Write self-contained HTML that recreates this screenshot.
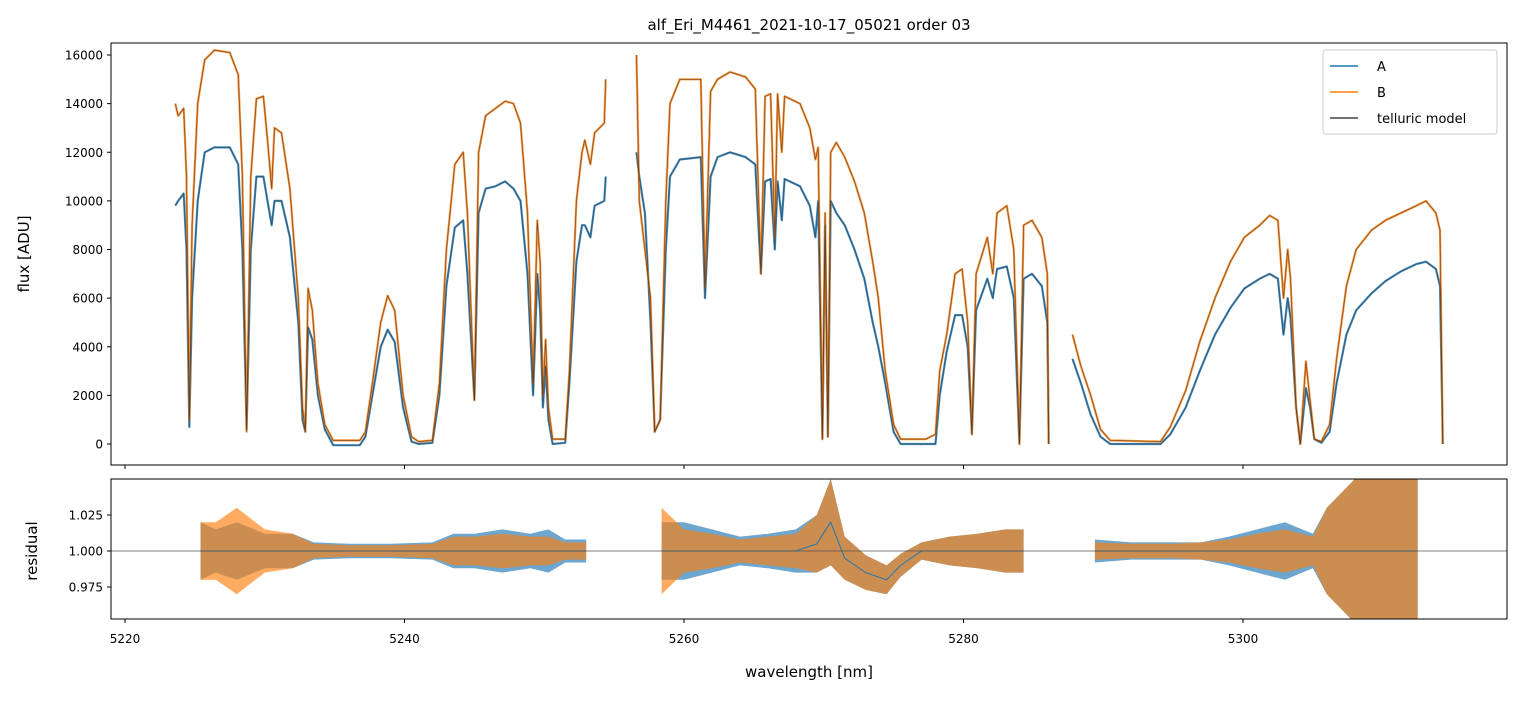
<!DOCTYPE html>
<html><head><meta charset="utf-8"><style>
body{margin:0;background:#fff;font-family:"Liberation Sans","DejaVu Sans",sans-serif}
svg text{font-family:"DejaVu Sans","Liberation Sans",sans-serif;fill:#000}
</style></head><body>
<svg id="chart" width="1520" height="696" viewBox="0 0 1520 696" xmlns="http://www.w3.org/2000/svg">
<defs>
<clipPath id="clipTop"><rect x="111" y="43" width="1396" height="422"/></clipPath>
<clipPath id="clipBot"><rect x="111" y="479" width="1396" height="140"/></clipPath>
</defs>
<text x="809" y="30" text-anchor="middle" font-size="15">alf_Eri_M4461_2021-10-17_05021  order 03</text>
<g id="topPanel"></g>
<g id="botPanel"></g>
<rect x="111" y="43" width="1396" height="422" fill="none" stroke="#000" stroke-width="1"/>
<rect x="111" y="479" width="1396" height="140" fill="none" stroke="#000" stroke-width="1"/>
<text transform="translate(29,254) rotate(-90)" text-anchor="middle" font-size="15">flux [ADU]</text>
<text transform="translate(37,551) rotate(-90)" text-anchor="middle" font-size="15">residual</text>
<text x="809" y="677" text-anchor="middle" font-size="15">wavelength [nm]</text>
<g>
<rect x="1323" y="50" width="174" height="84" fill="#fff" fill-opacity="0.8" stroke="#ccc" rx="3"/>
<line x1="1330" y1="66" x2="1358" y2="66" stroke="#1f77b4" stroke-width="1.5"/>
<text x="1377" y="71" font-size="13">A</text>
<line x1="1330" y1="92" x2="1358" y2="92" stroke="#ff7f0e" stroke-width="1.5"/>
<text x="1377" y="97" font-size="13">B</text>
<line x1="1330" y1="118" x2="1358" y2="118" stroke="#444" stroke-width="1.5"/>
<text x="1377" y="123" font-size="13">telluric model</text>
</g>
</svg>
<script>
const wl=[5223.6,5223.8,5224.2,5224.4,5224.6,5224.8,5225.2,5225.7,5226.4,5227.5,5228.1,5228.4,5228.7,5229.0,5229.4,5229.9,5230.2,5230.5,5230.7,5231.2,5231.8,5232.4,5232.7,5232.9,5233.1,5233.4,5233.8,5234.3,5234.9,5236.8,5237.2,5237.7,5238.3,5238.8,5239.3,5239.9,5240.5,5241.0,5242.0,5242.5,5243.0,5243.6,5244.2,5244.5,5245.0,5245.3,5245.8,5246.5,5247.2,5247.8,5248.3,5248.8,5249.2,5249.5,5249.7,5249.9,5250.1,5250.3,5250.6,5251.5,5251.8,5252.3,5252.7,5252.9,5253.3,5253.6,5254.3,5254.4,null,
5256.6,5256.8,5257.2,5257.6,5257.9,5258.3,5258.7,5259.0,5259.7,5261.2,5261.5,5261.9,5262.4,5263.3,5264.4,5265.1,5265.5,5265.8,5266.2,5266.5,5266.7,5267.0,5267.2,5268.3,5269.0,5269.4,5269.6,5269.9,5270.1,5270.3,5270.5,5270.9,5271.5,5272.2,5272.9,5273.5,5273.9,5274.4,5275.0,5275.5,5277.3,5278.0,5278.3,5278.8,5279.4,5279.9,5280.3,5280.6,5280.9,5281.7,5282.1,5282.4,5283.1,5283.6,5284.0,5284.3,5284.9,5285.6,5286.0,5286.1,null,
5287.8,5288.4,5289.1,5289.8,5290.5,5294.1,5294.8,5295.9,5296.9,5298.0,5299.1,5300.1,5301.2,5301.9,5302.5,5302.9,5303.2,5303.4,5303.8,5304.1,5304.5,5304.8,5305.1,5305.6,5306.2,5306.7,5307.4,5308.1,5309.2,5310.2,5311.3,5312.4,5313.1,5313.8,5314.1,5314.3];
const fluxB=[14000,13500,13800,11000,1000,9000,14000,15800,16200,16100,15200,11000,500,11000,14200,14300,12500,10500,13000,12800,10500,6000,1500,500,6400,5500,2500,800,150,150,500,2500,5000,6100,5500,2000,300,100,150,2500,8000,11500,12000,9500,1800,12000,13500,13800,14100,14000,13200,9500,2500,9200,7500,2000,4300,1500,200,200,3000,10000,12000,12500,11500,12800,13200,15000,null,
16000,10000,8000,6000,500,1000,10000,14000,15000,15000,6500,14500,15000,15300,15100,14600,7000,14300,14400,8500,14400,12000,14300,14000,13000,11700,12200,200,9500,300,12000,12400,11800,10800,9500,7500,6000,3000,800,200,200,400,3000,4500,7000,7200,5000,400,7000,8500,7000,9500,9800,8000,0,9000,9200,8500,7000,0,null,
4500,3200,2000,600,150,100,700,2200,4200,6000,7500,8500,9000,9400,9200,6000,8000,6800,1500,0,3400,1800,200,100,800,3500,6500,8000,8800,9200,9500,9800,10000,9500,8800,0];
const fluxA=[9800,10000,10300,8000,700,6000,10000,12000,12200,12200,11500,8000,600,8000,11000,11000,10000,9000,10000,10000,8500,5000,1000,500,4800,4300,2000,600,-50,-50,300,2000,4000,4700,4200,1500,100,0,50,2000,6500,8900,9200,7000,1800,9500,10500,10600,10800,10500,10000,7000,2000,7000,5500,1500,3200,1000,0,50,2500,7500,9000,9000,8500,9800,10000,11000,null,
12000,11000,9500,5000,500,1000,8000,11000,11700,11800,6000,11000,11800,12000,11800,11500,7000,10800,10900,8000,10800,9200,10900,10600,9800,8500,10000,200,9000,300,10000,9500,9000,8000,6800,5000,4000,2500,500,0,0,0,2000,3800,5300,5300,4000,400,5500,6800,6000,7200,7300,6000,0,6800,7000,6500,5000,0,null,
3500,2500,1200,300,0,0,400,1500,3000,4500,5600,6400,6800,7000,6800,4500,6000,5200,1500,0,2300,1500,200,50,500,2500,4500,5500,6200,6700,7100,7400,7500,7200,6500,0];
const resWl=[5225.4,5226.5,5228,5230,5232,5233.5,5236,5239,5242,5243.5,5245,5247,5249,5250.3,5251.5,5253.0,null,
5258.4,5260,5262,5264,5266,5268,5269.5,5270.5,5271.5,5273,5274.5,5275.5,5277,5279,5281,5283,5284.3,null,
5289.4,5292,5295,5297,5299,5301,5303,5305,5306,5308,5310,5312.5];
const resCenter=[1,1,1,1,1,1,1,1,1,1,1,1,1,1,1,1,null,
1,1,1,1,1,1,1.005,1.02,0.995,0.985,0.98,0.99,1,1,1,1,1,null,
1,1,1,1,1,1,1,1,1,1,1,1];
const resAmpA=[0.02,0.015,0.02,0.012,0.012,0.006,0.005,0.005,0.006,0.012,0.012,0.015,0.012,0.015,0.008,0.008,null,
0.02,0.02,0.015,0.01,0.012,0.015,0.02,0.03,0.015,0.012,0.01,0.008,0.006,0.01,0.012,0.015,0.015,null,
0.008,0.006,0.006,0.006,0.01,0.015,0.02,0.012,0.03,0.05,0.05,0.05];
const resAmpB=[0.02,0.02,0.03,0.015,0.012,0.005,0.004,0.004,0.005,0.01,0.01,0.012,0.01,0.01,0.006,0.006,null,
0.03,0.015,0.012,0.008,0.01,0.012,0.02,0.03,0.015,0.012,0.01,0.008,0.006,0.01,0.012,0.015,0.015,null,
0.006,0.005,0.005,0.006,0.008,0.012,0.015,0.01,0.03,0.05,0.05,0.05];
const xTicks=[5220,5240,5260,5280,5300];
const yTicks=[0,2000,4000,6000,8000,10000,12000,14000,16000];
const rTicks=[0.975,1.000,1.025];

const NS="http://www.w3.org/2000/svg";
const X=w=>125+(w-5220)*13.975;
const Y=v=>444-v*0.024312;
const R=v=>551-(v-1)*1440;
const topG=document.getElementById('topPanel'), botG=document.getElementById('botPanel');
function mk(tag,attrs,parent){const e=document.createElementNS(NS,tag);for(const k in attrs)e.setAttribute(k,attrs[k]);parent.appendChild(e);return e;}
function pathFrom(xs,ys,fx,fy){let d='',pen=false;for(let i=0;i<xs.length;i++){if(xs[i]===null||ys[i]===null){pen=false;continue;}d+=(pen?'L':'M')+fx(xs[i]).toFixed(1)+' '+fy(ys[i]).toFixed(1);pen=true;}return d;}
const gT=mk('g',{'clip-path':'url(#clipTop)'},topG);
const pA=mk('path',{d:pathFrom(wl,fluxA,X,Y),fill:'none',stroke:'#1f77b4','stroke-width':2.2,'stroke-opacity':0.85,'stroke-linejoin':'round'},gT);


const pB=mk('path',{d:pathFrom(wl,fluxB,X,Y),fill:'none',stroke:'#ff7f0e','stroke-width':2.2,'stroke-opacity':0.85,'stroke-linejoin':'round'},gT);


const mA=mk('path',{d:pathFrom(wl,fluxA,X,Y),fill:'none',stroke:'#333','stroke-width':0.7,'stroke-opacity':0.7},gT);


const mB=mk('path',{d:pathFrom(wl,fluxB,X,Y),fill:'none',stroke:'#333','stroke-width':0.7,'stroke-opacity':0.7},gT);


const gB=mk('g',{'clip-path':'url(#clipBot)'},botG);
function band(amp,color,op,name){let segs=[[]];for(let i=0;i<resWl.length;i++){if(resWl[i]===null){segs.push([]);continue;}segs[segs.length-1].push(i);}
 let d='';segs.forEach(s=>{if(!s.length)return;let up=s.map(i=>X(resWl[i]).toFixed(1)+' '+R(resCenter[i]+amp[i]).toFixed(1));let dn=s.slice().reverse().map(i=>X(resWl[i]).toFixed(1)+' '+R(resCenter[i]-amp[i]).toFixed(1));d+='M'+up.join('L')+'L'+dn.join('L')+'Z';});
 const p=mk('path',{d:d,fill:color,'fill-opacity':op,stroke:'none'},gB);
 
 }
band(resAmpA,'#1f77b4',0.65,'residual-a-band');
band(resAmpB,'#ff7f0e',0.65,'residual-b-band');
const c1=mk('path',{d:pathFrom(resWl,resCenter,X,R),fill:'none',stroke:'#1f77b4','stroke-width':1},gB);


const hl=mk('line',{x1:111,x2:1507,y1:R(1),y2:R(1),stroke:'#555','stroke-width':0.8},botG);


xTicks.forEach(t=>{const x=X(t);
 mk('line',{x1:x,x2:x,y1:465,y2:469,stroke:'#000'},topG);
 mk('line',{x1:x,x2:x,y1:619,y2:623,stroke:'#000'},botG);
 const tx=mk('text',{x:x,y:643,'text-anchor':'middle','font-size':12},botG);tx.textContent=t;
 
 });
yTicks.forEach(t=>{const y=Y(t);
 mk('line',{x1:107,x2:111,y1:y,y2:y,stroke:'#000'},topG);
 const tx=mk('text',{x:103,y:y+4.5,'text-anchor':'end','font-size':12},topG);tx.textContent=t;
 
 });
rTicks.forEach(t=>{const y=R(t);
 mk('line',{x1:107,x2:111,y1:y,y2:y,stroke:'#000'},botG);
 const tx=mk('text',{x:103,y:y+4.5,'text-anchor':'end','font-size':12},botG);tx.textContent=t.toFixed(3);
 
 });
</script>
</body></html>
